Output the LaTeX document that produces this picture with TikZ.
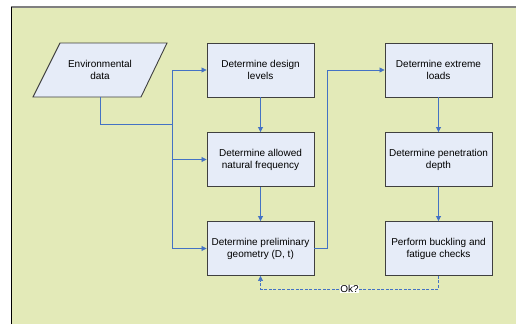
\documentclass[tikz,border=0pt]{standalone}
\usepackage{fontspec}
\setmainfont{Liberation Sans}
\usetikzlibrary{arrows.meta}
\definecolor{panelgreen}{RGB}{227,234,184}
\definecolor{boxblue}{RGB}{230,236,248}
\definecolor{flowblue}{RGB}{68,114,196}
\definecolor{edgegray}{RGB}{64,64,64}
\tikzset{
	stepbox/.style={draw=edgegray, line width=0.9pt, fill=boxblue, minimum width=107pt, minimum height=54pt, inner sep=1pt, align=center, font=\fontsize{10}{12}\selectfont},
	flow/.style={draw=flowblue, line width=0.8pt, -{Triangle[length=5pt,width=5pt]}},
}
\begin{document}
\begin{tikzpicture}[x=1pt,y=-1pt]
		\useasboundingbox (0,0) rectangle (516,324);
		
		\fill[panelgreen] (11,7) rectangle (516,324);
		\draw[gray, line width=1.4pt] (11,7) -- (516,7);
		\draw[black, line width=0.9pt] (11,324) -- (11,7);
		
		% input
		\draw[draw=edgegray, line width=0.9pt, fill=boxblue] (60,43) -- (167,43) -- (141,97) -- (33,97) -- cycle;
		\node[minimum height=54pt, align=center, font=\fontsize{10}{12}\selectfont] (env) at (100,70) {Environmental\\data};
		
		\node[stepbox] (design) at (260.5,70) {Determine design\\levels};
		\node[stepbox] (freq) at (260.5,159.5) {Determine allowed\\natural frequency};
		\node[stepbox] (prelim) at (260.5,248.5) {Determine preliminary\\geometry (D, t)};
		
		\node[stepbox] (loads) at (438.5,70) {Determine extreme\\loads};
		\node[stepbox] (depth) at (438.5,159.5) {Determine penetration\\depth};
		\node[stepbox] (checks) at (438.5,248.5) {Perform buckling and\\fatigue checks};
		
		\coordinate (bus) at (172,124);
		\coordinate (riser) at (327,248.5);
		
		\draw[flowblue, line width=0.8pt] (env.south) |- (bus);
		\draw[flow] (bus) |- (design.west);
		\draw[flow] (bus |- freq.west) -- (freq.west);
		\draw[flow] (bus) |- (prelim.west);
		
		\draw[flow] (design) -- (freq);
		\draw[flow] (freq) -- (prelim);
		\draw[flow] (prelim.east) -- (riser) |- (loads.west);
		\draw[flow] (loads) -- (depth);
		\draw[flow] (depth) -- (checks);
		
		\draw[flow, line width=0.7pt, dash pattern=on 3pt off 1.5pt] (checks.south) -- ++(0,13) -| (prelim.south)
			node[pos=0.25, fill=white, inner sep=0.5pt, font=\fontsize{10}{12}\selectfont] {Ok?};
		\end{tikzpicture}
\end{document}
